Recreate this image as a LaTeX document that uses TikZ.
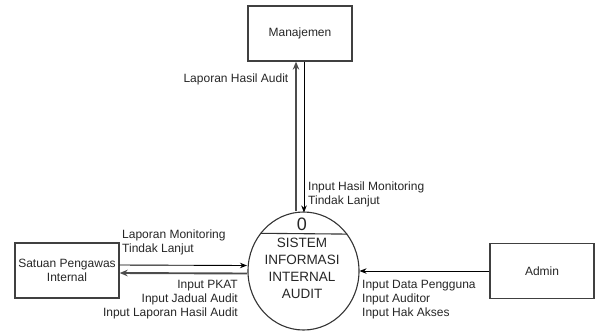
\documentclass[tikz,border=0pt]{standalone}
\usepackage{fontspec}
\setmainfont{Liberation Sans}
\usetikzlibrary{arrows.meta,shapes.geometric,calc}
\begin{document}
\begin{tikzpicture}[x=1bp,y=-1bp,
  entity/.style={draw=black!75,line width=1.3bp,minimum width=104bp,minimum height=55bp,inner sep=0pt,align=center,
    font=\fontsize{12bp}{14bp}\selectfont,text=black!85},
  proc/.style={draw=black!80,line width=1.1bp,ellipse,minimum width=111bp,minimum height=118bp,inner sep=0pt},
  flow/.style={draw=black,line width=0.9bp,-{Stealth[length=7bp,width=5.5bp]}},
  flowthick/.style={draw=black!70,line width=1.9bp,-{Stealth[length=8bp,width=6.5bp]}},
  lbl/.style={inner sep=0pt,font=\fontsize{12bp}{14bp}\selectfont,text=black!85}
]
\useasboundingbox (0,0) rectangle (595,331);
% entities
\node[entity] (M) at (300,33.5) {Manajemen};
\node[entity] (S) at (67,270.5) {Satuan Pengawas\\Internal};
\node[entity,minimum width=104bp] (A) at (542,271) {Admin};
% process
\node[proc] (P) at (303.5,271) {};
\draw[black!80,line width=1.1bp] (P.139.4) -- (P.40.6);
\node[inner sep=0pt,font=\fontsize{18bp}{18bp}\selectfont,text=black!85] (P0) at (302,224) {0};
\node[inner sep=0pt,align=center,font=\fontsize{13.5bp}{17bp}\selectfont,text=black!85] (PT) at (302,268.5)
  {SISTEM\\INFORMASI\\INTERNAL\\AUDIT};
% connectors
\coordinate (u1) at ([xshift=-4bp]M.south);
\coordinate (d1) at ([xshift=4bp]M.south);
\draw[flowthick] (u1 |- P.north) -- (u1);
\draw[flow] (d1) -- ([yshift=-1bp]d1 |- P.north);
\draw[flowthick] ([yshift=-2.5bp]P.west) -- ([yshift=-2.5bp]S.east);
\draw[flow] ([yshift=5.5bp]S.east) -- ([yshift=5.5bp,xshift=-0.5bp]P.west);
\draw[flow] (A.west) -- (P.east);
% labels
\node[lbl,anchor=east] (L1) at (288.5,79) {Laporan Hasil Audit};
\node[lbl,anchor=west,align=left] (L2) at (308,194.5) {Input Hasil Monitoring\\Tindak Lanjut};
\node[lbl,anchor=west,align=left] (L3) at (122,242.5) {Laporan Monitoring\\Tindak Lanjut};
\node[lbl,anchor=east,align=right] (L4) at (238,300) {Input PKAT\\Input Jadual Audit\\Input Laporan Hasil Audit};
\node[lbl,anchor=west,align=left] (L5) at (362,300) {Input Data Pengguna\\Input Auditor\\Input Hak Akses};
\end{tikzpicture}
\end{document}
